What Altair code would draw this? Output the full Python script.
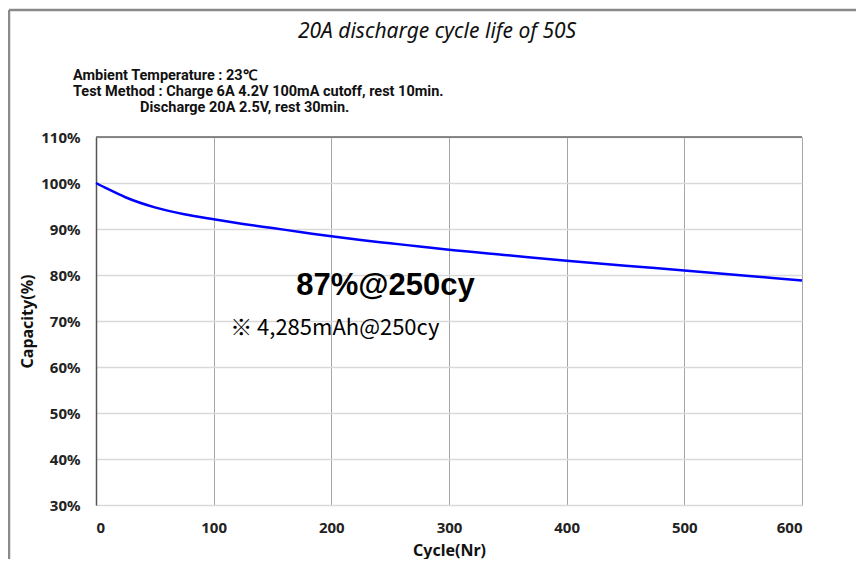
import altair as alt
import pandas as pd

# Data
cycles = [0, 10, 25, 50, 75, 100, 125, 150, 175, 200, 225, 250, 275, 300, 350, 400, 450, 500, 550, 600]
capacity = [100.0, 98.7, 96.9, 94.7, 93.2, 92.1, 91.1, 90.2, 89.3, 88.4, 87.6, 86.9, 86.2, 85.5, 84.3, 83.1, 82.0, 81.0, 79.9, 78.8]

x_ticks = [0, 100, 200, 300, 400, 500, 600]
y_ticks = [0.3, 0.4, 0.5, 0.6, 0.7, 0.8, 0.9, 1.0, 1.1]

title_text = "20A discharge cycle life of 50S"
cond_lines = ["Ambient  Temperature : 23\u2103",
              "Test Method : Charge 6A 4.2V 100mA  cutoff, rest 10min.",
              "Discharge 20A 2.5V,  rest 30min."]
note_main = "87%@250cy"
note_sub = "\u203b 4,285mAh@250cy"

W, H = 706, 368

df = pd.DataFrame({"cycle": cycles, "cap": [c / 100 for c in capacity]})

xs = alt.Scale(domain=[0, 600], nice=False)
ys = alt.Scale(domain=[0.3, 1.1], nice=False)

line = alt.Chart(df).mark_line(color="#0000ff", strokeWidth=2.5, interpolate="monotone").encode(
    x=alt.X("cycle:Q", scale=xs,
            axis=alt.Axis(values=x_ticks, title="Cycle(Nr)", grid=True, gridColor="#a6a6a6",
                          gridWidth=1, domain=False, ticks=False, labelPadding=15,
                          labelFont="Noto Sans", labelFontSize=15, labelFontWeight="bold",
                          labelColor="#222", titleFont="Noto Sans", titleFontSize=16,
                          titleFontWeight="bold", titleColor="#111", titleX=W / 2, titleY=45,
                          titleBaseline="middle")),
    y=alt.Y("cap:Q", scale=ys,
            axis=alt.Axis(values=y_ticks, format=".0%", title="Capacity(%)", grid=True,
                          gridColor="#d9d9d9", gridWidth=1.5, domain=True, domainColor="#555",
                          domainWidth=1.5, ticks=False, labelPadding=16,
                          labelFont="Noto Sans", labelFontSize=15, labelFontWeight="bold",
                          labelColor="#222", titleFont="Noto Sans", titleFontSize=16,
                          titleFontWeight="bold", titleColor="#111", titleX=-69, titleY=H / 2,
                          titleAngle=270, titleAlign="center", titleBaseline="middle")),
)

one = alt.Data(values=[{}])

top_border = alt.Chart(one).mark_rule(color="#666", strokeWidth=1.5).encode(
    x=alt.value(0), x2=alt.value(W), y=alt.value(0))

frame_top = alt.Chart(one).mark_rule(color="#8a8a8a", strokeWidth=2.5).encode(
    x=alt.value(-87), x2=alt.value(W + 60), y=alt.value(-127))
frame_left = alt.Chart(one).mark_rule(color="#8a8a8a", strokeWidth=2.5).encode(
    x=alt.value(-87), y=alt.value(-127), y2=alt.value(H + 60))

title = alt.Chart(one).mark_text(font="Noto Sans", fontSize=21, fontStyle="italic",
                                 color="#111", align="center", baseline="middle").encode(
    x=alt.value(341), y=alt.value(-105), text=alt.value(title_text))

cond_font = dict(font="Roboto", fontSize=14.5, fontWeight="bold", color="#111",
                 align="left", baseline="middle")
cond1 = alt.Chart(one).mark_text(**cond_font).encode(
    x=alt.value(-23), y=alt.value(-61), text=alt.value(cond_lines[0]))
cond2 = alt.Chart(one).mark_text(**cond_font).encode(
    x=alt.value(-23), y=alt.value(-45), text=alt.value(cond_lines[1]))
cond3 = alt.Chart(one).mark_text(**cond_font).encode(
    x=alt.value(44), y=alt.value(-29), text=alt.value(cond_lines[2]))

ann_df = pd.DataFrame({"cycle": [246], "cap": [0.776], "t": [note_main]})
ann2_df = pd.DataFrame({"cycle": [114], "cap": [0.685], "t": [note_sub]})

ann1 = alt.Chart(ann_df).mark_text(font="Liberation Sans", fontSize=31, fontWeight="bold",
                                   color="#000", align="center", baseline="middle").encode(
    x=alt.X("cycle:Q", scale=xs), y=alt.Y("cap:Q", scale=ys), text="t:N")
ann2 = alt.Chart(ann2_df).mark_text(font="Noto Sans CJK KR", fontSize=22,
                                    color="#000", align="left", baseline="middle").encode(
    x=alt.X("cycle:Q", scale=xs), y=alt.Y("cap:Q", scale=ys), text="t:N")

chart = alt.layer(line, top_border, ann1, ann2, title, cond1, cond2, cond3, frame_top, frame_left).properties(
    width=W, height=H,
    autosize=alt.AutoSizeParams(type="none"),
    padding={"left": 88, "top": 129, "right": 54, "bottom": 54},
).configure_view(stroke=None).configure(background="white")

chart.save("out.html", embed_options={"renderer": "svg", "actions": False})
